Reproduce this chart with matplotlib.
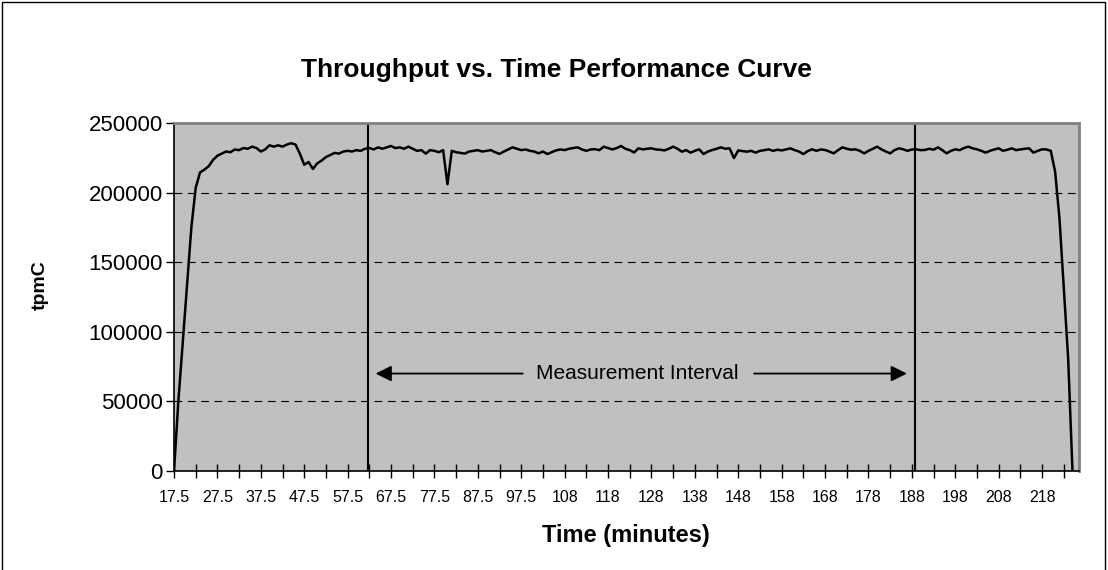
# Throughput vs. time performance curve (tpmC)
import numpy as np
import matplotlib.pyplot as plt
from matplotlib.patches import Rectangle

plt.rcParams['font.family'] = ['Liberation Sans', 'DejaVu Sans']

# data: one value per minute, starting at 17.5 min
start_min = 17.5
tpmc = [
    0, 50000, 92000, 133500, 175000, 203500, 214500, 216500, 219000, 223500,    # 17.5 - 26.5
    226500, 228000, 229500, 229000, 231000, 230500, 232000, 231500, 233000, 232000,  # 27.5 - 36.5
    229500, 231000, 234000, 233000, 234000, 233000, 234500, 235500, 234500, 228000,  # 37.5 - 46.5
    220000, 222000, 217000, 221000, 223000, 225500, 227000, 228500, 228000, 229500,  # 47.5 - 56.5
    230000, 229500, 230500, 230000, 231500, 232000, 231000, 232500, 231500, 232500,  # 57.5 - 66.5
    233500, 232000, 232500, 231500, 233000, 231500, 230000, 230500, 228000, 230500,  # 67.5 - 76.5
    230000, 229000, 230500, 206000, 230000, 229000, 228500, 228000, 229500, 230000,  # 77.5 - 86.5
    230500, 229500, 230000, 230500, 229000, 227800, 229500, 231000, 232500, 231500,  # 87.5 - 96.5
    230500, 231000, 230000, 229500, 228200, 229500, 227700, 229000, 230300, 231000,  # 97.5 - 106.5
    230500, 231500, 232000, 232500, 231000, 230000, 231000, 231200, 230500, 233000,  # 107.5 - 116.5
    232000, 231000, 232000, 233500, 231500, 230500, 228800, 231800, 231000, 231500,  # 117.5 - 126.5
    231800, 231000, 230800, 230300, 231500, 233000, 231500, 229400, 230500, 228700,  # 127.5 - 136.5
    230000, 231100, 227700, 229500, 230600, 231500, 232500, 231500, 231800, 224800,  # 137.5 - 146.5
    230300, 229800, 229400, 230000, 228700, 230000, 230500, 231100, 230000, 230800,  # 147.5 - 156.5
    230300, 231000, 231800, 230500, 229500, 227700, 229800, 231100, 230000, 231000,  # 157.5 - 166.5
    230600, 229500, 228200, 230500, 232500, 231500, 230800, 231100, 230000, 228200,  # 167.5 - 176.5
    230000, 231500, 233000, 231000, 229500, 228200, 230500, 231800, 231100, 230000,  # 177.5 - 186.5
    231000, 231100, 230500, 230600, 231500, 230800, 232500, 230500, 228200, 230000,  # 187.5 - 196.5
    231100, 230500, 232000, 233000, 231800, 231100, 230000, 228700, 230000, 231000,  # 197.5 - 206.5
    231800, 230000, 230800, 231800, 230500, 231000, 231500, 231800, 228700, 230000,  # 207.5 - 216.5
    231100, 231000, 230000, 215000, 181500, 131000, 81000, 0,                        # 217.5 - 224.5
]
minutes = start_min + np.arange(len(tpmc))

mi_start = 62.3
mi_end = 188.2

xtick_labels = ['17.5', '27.5', '37.5', '47.5', '57.5', '67.5', '77.5', '87.5', '97.5',
                '108', '118', '128', '138', '148', '158', '168', '178', '188', '198',
                '208', '218']

fig = plt.figure(figsize=(11.08, 5.70), dpi=100)
ax = fig.add_axes([174/1108, 99/570, 905/1108, 348/570])
ax.set_facecolor('#C0C0C0')

ax.plot(minutes, tpmc, color='black', lw=1.8, zorder=3)

ax.axvline(mi_start, ymax=0.99, color='black', lw=1.5, zorder=4)
ax.axvline(mi_end, ymax=0.99, color='black', lw=1.5, zorder=4)

# measurement interval arrows
ax.text(124.2, 70000, 'Measurement Interval', ha='center', va='center', fontsize=15)
ax.annotate('', xy=(63.3, 70000), xytext=(98.5, 70000),
            arrowprops=dict(arrowstyle='-|>', color='black', lw=1.3, mutation_scale=24))
ax.annotate('', xy=(187.0, 70000), xytext=(150.5, 70000),
            arrowprops=dict(arrowstyle='-|>', color='black', lw=1.3, mutation_scale=24))

ax.set_xlim(17.5, 226.0)
ax.set_ylim(0, 250000)
ax.set_yticks(np.arange(0, 250001, 50000))
ax.set_yticklabels([str(v) for v in range(0, 250001, 50000)], fontsize=16)
ax.set_xticks(np.arange(17.5, 223, 10.0)[:len(xtick_labels)])
ax.set_xticklabels(xtick_labels, fontsize=11.5)
ax.set_xticks(np.arange(22.5, 223, 10.0), minor=True)
ax.tick_params(axis='x', which='both', direction='inout', length=10, width=1, pad=9)
ax.tick_params(axis='y', direction='out', length=6, width=1, pad=2)

ax.grid(axis='y', linestyle=(0, (7, 5)), color='black', lw=0.8)
ax.set_axisbelow(True)

for s in ['left', 'bottom']:
    ax.spines[s].set_color('black')
    ax.spines[s].set_linewidth(1.2)
for s in ['top', 'right']:
    ax.spines[s].set_color('#808080')
    ax.spines[s].set_linewidth(2)

fig.text(0.502, 0.877, 'Throughput vs. Time Performance Curve', ha='center', va='center',
         fontsize=19, fontweight='bold')
fig.text(0.565, 0.061, 'Time (minutes)', ha='center', va='center', fontsize=17, fontweight='bold')
fig.text(0.036, 0.50, 'tpmC', ha='center', va='center', rotation=90, fontsize=14, fontweight='bold')

fig.patches.append(Rectangle((0.002, -0.02), 0.995, 1.016, transform=fig.transFigure,
                             fill=False, edgecolor='black', lw=1))

plt.savefig('out.png')
